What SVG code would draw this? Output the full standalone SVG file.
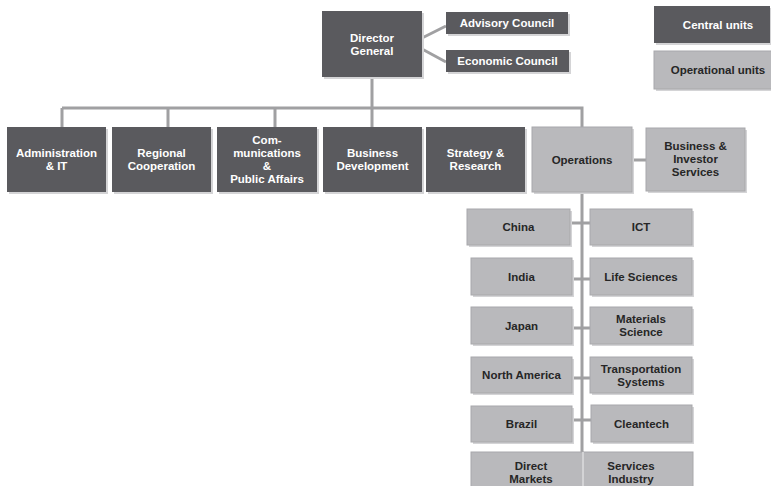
<svg xmlns="http://www.w3.org/2000/svg" width="771" height="486" viewBox="0 0 771 486">
<style>
.d{fill:#5a5a5e}
.l{fill:#b9b9bc;stroke:#a8a8ab;stroke-width:1}
.s{fill:#d4d4d6}
text{font-family:"Liberation Sans",Arial,sans-serif;font-weight:bold;font-size:11.5px;text-anchor:middle}
.w{fill:#ffffff}
.k{fill:#262626}
.c{stroke:#a0a0a2;stroke-width:3;fill:none}
</style>
<rect width="771" height="486" fill="#ffffff"/>
<g id="connectors">
<path class="c" d="M372 77V127M62 108H582V127M62 108V127M168 108V127M275 108V127"/>
<path class="c" d="M422 38L446 26M422 49L446 62"/>
<path class="c" d="M632 160H646M582 192V452"/>
<path class="c" d="M570 223H590M572 279H590M572 328H590M572 378H590M572 420H591"/>
</g>
<g id="legend-central"><rect class="s" x="656" y="8" width="116" height="37"/><rect class="d" x="654" y="6" width="116" height="37"/><text class="w" x="718" y="29">Central units</text></g>
<g id="legend-operational"><rect class="s" x="656" y="53" width="130" height="38"/><rect class="l" x="654" y="51" width="130" height="38"/><text class="k" x="718" y="74">Operational units</text></g>
<g id="director"><rect class="s" x="324" y="13" width="100" height="66"/><rect class="d" x="322" y="11" width="100" height="66"/><text class="w" x="372" y="41.5">Director</text><text class="w" x="372" y="54.5">General</text></g>
<g id="advisory"><rect class="s" x="448" y="14" width="122" height="22"/><rect class="d" x="446" y="12" width="122" height="22"/><text class="w" x="507" y="27">Advisory Council</text></g>
<g id="economic"><rect class="s" x="448" y="52" width="123" height="22"/><rect class="d" x="446" y="50" width="123" height="22"/><text class="w" x="507.5" y="65">Economic Council</text></g>
<g id="admin"><rect class="s" x="9" y="129" width="99" height="65"/><rect class="d" x="7" y="127" width="99" height="65"/><text class="w" x="56.5" y="157">Administration</text><text class="w" x="56.5" y="170">&amp; IT</text></g>
<g id="regional"><rect class="s" x="114" y="129" width="99" height="65"/><rect class="d" x="112" y="127" width="99" height="65"/><text class="w" x="161.5" y="157">Regional</text><text class="w" x="161.5" y="170">Cooperation</text></g>
<g id="communications"><rect class="s" x="219" y="129" width="100" height="65"/><rect class="d" x="217" y="127" width="100" height="65"/><text class="w" x="267" y="144">Com-</text><text class="w" x="267" y="157">munications</text><text class="w" x="267" y="170">&amp;</text><text class="w" x="267" y="183">Public Affairs</text></g>
<g id="business-dev"><rect class="s" x="325" y="129" width="99" height="65"/><rect class="d" x="323" y="127" width="99" height="65"/><text class="w" x="372.5" y="157">Business</text><text class="w" x="372.5" y="170">Development</text></g>
<g id="strategy"><rect class="s" x="428" y="129" width="99" height="65"/><rect class="d" x="426" y="127" width="99" height="65"/><text class="w" x="475.5" y="157">Strategy &amp;</text><text class="w" x="475.5" y="170">Research</text></g>
<g id="operations"><rect class="s" x="534" y="129" width="100" height="65"/><rect class="l" x="532" y="127" width="100" height="65"/><text class="k" x="582" y="163.5">Operations</text></g>
<g id="investor"><rect class="s" x="648" y="130" width="99" height="63"/><rect class="l" x="646" y="128" width="99" height="63"/><text class="k" x="695.5" y="150">Business &amp;</text><text class="k" x="695.5" y="163">Investor</text><text class="k" x="695.5" y="176">Services</text></g>
<g id="china"><rect class="s" x="469" y="211" width="103" height="36"/><rect class="l" x="467" y="209" width="103" height="36"/><text class="k" x="518.5" y="231">China</text></g>
<g id="ict"><rect class="s" x="592" y="211" width="102" height="36"/><rect class="l" x="590" y="209" width="102" height="36"/><text class="k" x="641" y="231">ICT</text></g>
<g id="india"><rect class="s" x="473" y="260" width="101" height="37"/><rect class="l" x="471" y="258" width="101" height="37"/><text class="k" x="521.5" y="280.5">India</text></g>
<g id="life-sciences"><rect class="s" x="592" y="260" width="102" height="37"/><rect class="l" x="590" y="258" width="102" height="37"/><text class="k" x="641" y="280.5">Life Sciences</text></g>
<g id="japan"><rect class="s" x="473" y="309" width="101" height="37"/><rect class="l" x="471" y="307" width="101" height="37"/><text class="k" x="521.5" y="329.5">Japan</text></g>
<g id="materials"><rect class="s" x="592" y="309" width="102" height="37"/><rect class="l" x="590" y="307" width="102" height="37"/><text class="k" x="641" y="323">Materials</text><text class="k" x="641" y="336">Science</text></g>
<g id="north-america"><rect class="s" x="473" y="359" width="101" height="36"/><rect class="l" x="471" y="357" width="101" height="36"/><text class="k" x="521.5" y="379">North America</text></g>
<g id="transportation"><rect class="s" x="592" y="359" width="102" height="36"/><rect class="l" x="590" y="357" width="102" height="36"/><text class="k" x="641" y="372.5">Transportation</text><text class="k" x="641" y="385.5">Systems</text></g>
<g id="brazil"><rect class="s" x="473" y="408" width="101" height="36"/><rect class="l" x="471" y="406" width="101" height="36"/><text class="k" x="521.5" y="428">Brazil</text></g>
<g id="cleantech"><rect class="s" x="593" y="407" width="101" height="37"/><rect class="l" x="591" y="405" width="101" height="37"/><text class="k" x="641.5" y="427.5">Cleantech</text></g>
<g id="direct-markets"><rect class="l" x="471" y="452" width="112" height="40"/><text class="k" x="531" y="470">Direct</text><text class="k" x="531" y="483">Markets</text></g>
<g id="services-industry"><rect class="l" x="583" y="452" width="110" height="40"/><line x1="583" y1="452" x2="583" y2="486" stroke="#e0e0e2" stroke-width="1.5"/><text class="k" x="631" y="470">Services</text><text class="k" x="631" y="483">Industry</text></g>
</svg>
